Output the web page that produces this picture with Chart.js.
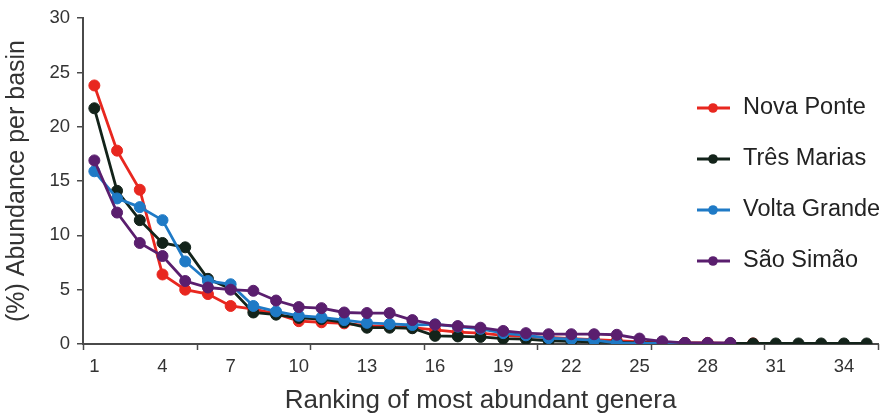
<!DOCTYPE html>
<html>
<head>
<meta charset="utf-8">
<script src="https://cdn.jsdelivr.net/npm/chart.js@4.4.0/dist/chart.umd.min.js"></script>
<style>
  html, body { margin: 0; padding: 0; background: #fff; }
</style>
</head>
<body>
<canvas id="myChart" width="891" height="417"></canvas>
<script>
let ranks = [1, 2, 3, 4, 5, 6, 7, 8, 9, 10, 11, 12, 13, 14, 15, 16, 17, 18, 19, 20,
  21, 22, 23, 24, 25, 26, 27, 28, 29, 30, 31, 32, 33, 34, 35];
let tickLabels = [1, 4, 7, 10, 13, 16, 19, 22, 25, 28, 31, 34];
let basins = ['Nova Ponte', 'Três Marias', 'Volta Grande', 'São Simão'];
let novaPonte = [23.8, 17.8, 14.2, 6.4, 5.0, 4.6, 3.5, 3.2, 2.8, 2.1, 2.0, 1.9, 1.7, 1.6, 1.5,
  1.3, 1.1, 1.0, 0.8, 0.7, 0.6, 0.5, 0.4, 0.3, 0.2, 0.15, 0.1, 0.1, 0.05, 0.05];
let tresMarias = [21.7, 14.1, 11.4, 9.3, 8.9, 6.0, 5.1, 2.9, 2.7, 2.4, 2.3, 2.0, 1.5, 1.5, 1.45,
  0.75, 0.7, 0.65, 0.5, 0.45, 0.3, 0.25, 0.2, 0.15, 0.1, 0.1, 0.08, 0.05, 0.05, 0.05,
  0.05, 0.05, 0.05, 0.05, 0.05];
let voltaGrande = [15.9, 13.4, 12.6, 11.4, 7.6, 5.8, 5.5, 3.5, 3.0, 2.6, 2.45, 2.2, 1.95, 1.85, 1.75,
  1.8, 1.6, 1.4, 1.0, 0.8, 0.55, 0.45, 0.35, 0.1, 0.05, 0.05, 0.05];
let saoSimao = [16.9, 12.1, 9.3, 8.1, 5.8, 5.2, 5.0, 4.9, 4.0, 3.4, 3.3, 2.9, 2.85, 2.85, 2.2,
  1.8, 1.65, 1.5, 1.2, 1.0, 0.9, 0.9, 0.9, 0.85, 0.5, 0.25, 0.1, 0.1, 0.1];
let colorHex = ['#e8271f', '#13231a', '#1f7ac6', '#5a1e6e'];

const FONT = "'Liberation Sans', Arial, sans-serif";
const AXIS = '#4a4a4a';

function series(i, values, order) {
  return {
    label: basins[i],
    data: values,
    borderColor: colorHex[i],
    backgroundColor: colorHex[i],
    pointBackgroundColor: colorHex[i],
    pointBorderColor: colorHex[i],
    borderWidth: 2.8,
    pointRadius: 5.5,
    pointBorderWidth: 1,
    tension: 0,
    order: order
  };
}

// tick marks on the x axis sit on category borders, every 5 ranks
const xTickMarks = {
  id: 'xTickMarks',
  afterDraw(chart) {
    const c = chart.ctx, x = chart.scales.x, y0 = chart.chartArea.bottom;
    c.save();
    c.strokeStyle = AXIS;
    c.lineWidth = 1.5;
    for (let v = 0.5; v <= 35.5; v += 5) {
      const px = Math.round(x.getPixelForValue(v)) + 0.5;
      c.beginPath();
      c.moveTo(px, y0);
      c.lineTo(px, y0 + 6);
      c.stroke();
    }
    c.restore();
  }
};

// legend: short line with a dot, then the name
const sideLegend = {
  id: 'sideLegend',
  afterDatasetsDraw(chart) {
    const c = chart.ctx;
    c.save();
    chart.data.datasets.forEach((ds, i) => {
      const y = 108 + i * 51;
      c.strokeStyle = ds.borderColor;
      c.fillStyle = ds.borderColor;
      c.lineWidth = 2.8;
      c.beginPath();
      c.moveTo(697, y);
      c.lineTo(730, y);
      c.stroke();
      c.beginPath();
      c.arc(713, y, 4.8, 0, Math.PI * 2);
      c.fill();
      c.fillStyle = '#222';
      c.font = '23.5px ' + FONT;
      c.textBaseline = 'middle';
      c.fillText(ds.label, 743, y);
    });
    c.restore();
  }
};

let ctx = document.getElementById('myChart').getContext('2d');

let myChart = new Chart(ctx, {
  type: 'line',
  data: {
    labels: ranks,
    datasets: [
      series(0, novaPonte, 3),
      series(1, tresMarias, 2),
      series(2, voltaGrande, 1),
      series(3, saoSimao, 0)
    ]
  },
  options: {
    responsive: false,
    animation: false,
    layout: { padding: { left: 0, right: 13, top: 18, bottom: 0 } },
    plugins: {
      legend: { display: false },
      tooltip: { enabled: false }
    },
    scales: {
      x: {
        type: 'linear',
        min: 0.5,
        max: 35.5,
        afterFit: (scale) => { scale.height = 73; },
        afterBuildTicks: (scale) => {
          scale.ticks = tickLabels.map(v => ({ value: v }));
        },
        border: { color: AXIS, width: 2 },
        grid: { drawOnChartArea: false, drawTicks: false },
        ticks: {
          autoSkip: false,
          maxRotation: 0,
          padding: 12,
          color: '#333',
          font: { family: FONT, size: 18.5 }
        },
        title: {
          display: true,
          text: 'Ranking of most abundant genera',
          color: '#333',
          font: { family: FONT, size: 26 },
          padding: { top: 0, bottom: 1 }
        }
      },
      y: {
        min: 0,
        max: 30,
        afterFit: (scale) => { scale.width = 83; },
        border: { color: AXIS, width: 2 },
        grid: { drawOnChartArea: false, drawTicks: true, tickLength: 6, color: AXIS, lineWidth: 1.5 },
        ticks: {
          stepSize: 5,
          padding: 7,
          color: '#333',
          font: { family: FONT, size: 18.5 }
        },
        title: {
          display: true,
          text: '(%) Abundance per basin',
          color: '#333',
          font: { family: FONT, size: 25 },
          padding: { top: 2, bottom: 0 }
        }
      }
    }
  },
  plugins: [xTickMarks, sideLegend]
});
</script>
</body>
</html>
